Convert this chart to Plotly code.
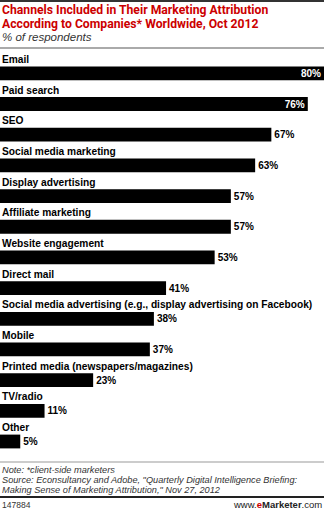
import plotly.graph_objects as go

categories = [
    "Email", "Paid search", "SEO", "Social media marketing", "Display advertising",
    "Affiliate marketing", "Website engagement", "Direct mail",
    "Social media advertising (e.g., display advertising on Facebook)",
    "Mobile", "Printed media (newspapers/magazines)", "TV/radio", "Other",
]
values = [80, 76, 67, 63, 57, 57, 53, 41, 38, 37, 23, 11, 5]

title_lines = ["Channels Included in Their Marketing Attribution",
               "According to Companies* Worldwide, Oct 2012"]
subtitle = "% of respondents"
notes = ["Note: *client-side marketers",
         "Source: Econsultancy and Adobe, \"Quarterly Digital Intelligence Briefing:",
         "Making Sense of Marketing Attribution,\" Nov 27, 2012"]
chart_id = "147884"

W, H = 324, 511
TOP, BOT = 58, 463

LABEL_FONT = "Liberation Sans"
TITLE_FONT = "Roboto"

positions = ["inside" if v >= 72 else "outside" for v in values]

fig = go.Figure()
fig.add_trace(go.Bar(
    x=values, y=categories, orientation="h",
    marker=dict(color="#000000", line=dict(width=0)),
    text=[f"{v}%" for v in values],
    textposition=positions,
    insidetextanchor="end",
    insidetextfont=dict(color="#ffffff", size=10, family=LABEL_FONT, weight="bold"),
    outsidetextfont=dict(color="#000000", size=10, family=LABEL_FONT, weight="bold"),
    cliponaxis=False,
    constraintext="none",
    hoverinfo="skip",
))

annotations = []
for c in categories:
    annotations.append(dict(
        x=0, xref="paper", y=c, yref="y", yshift=14,
        text=c, showarrow=False, xanchor="left", yanchor="middle",
        font=dict(family=LABEL_FONT, size=10.2, color="#000000", weight="bold"),
    ))

def py(ypx):
    return (BOT - ypx) / (BOT - TOP)

def ptext(txt, ypx, size, color, family, x=0, xanchor="left", weight="normal", style="normal"):
    annotations.append(dict(
        x=x, xref="paper", y=py(ypx), yref="paper",
        text=txt, showarrow=False, xanchor=xanchor, yanchor="middle",
        font=dict(family=family, size=size, color=color, weight=weight, style=style),
    ))

ptext(title_lines[0], 10.5, 12.2, "#cc0000", TITLE_FONT, weight="bold")
ptext(title_lines[1], 24.5, 12.2, "#cc0000", TITLE_FONT, weight="bold")
ptext(subtitle, 37.5, 11.5, "#333333", "Liberation Sans", style="italic")
for i, n in enumerate(notes):
    ptext(n, 470 + 10 * i, 9.2, "#333333", "Liberation Sans", style="italic")
ptext(chart_id, 505, 8.5, "#333333", "Liberation Sans")
ptext("www.<span style='color:#cc0000'><b>e</b></span><b>Marketer</b>.com", 505, 9.5, "#222222",
      "Liberation Sans", x=1, xanchor="right")

def hline(ypx, color, width):
    return dict(type="line", xref="paper", yref="paper", x0=0, x1=1,
                y0=py(ypx), y1=py(ypx), line=dict(color=color, width=width))

shapes = [hline(1, "#333333", 2), hline(48, "#aaaaaa", 2),
          hline(462, "#999999", 1), hline(497, "#222222", 2)]

fig.update_layout(
    width=W, height=H,
    margin=dict(l=0, r=0, t=TOP, b=H - BOT, pad=0),
    paper_bgcolor="#ffffff", plot_bgcolor="#ffffff",
    showlegend=False, bargap=0.55,
    xaxis=dict(range=[0, 80], visible=False, fixedrange=True),
    yaxis=dict(autorange="reversed", visible=False, fixedrange=True),
    annotations=annotations, shapes=shapes,
)
fig.write_html("out.html", config={"displayModeBar": False})
